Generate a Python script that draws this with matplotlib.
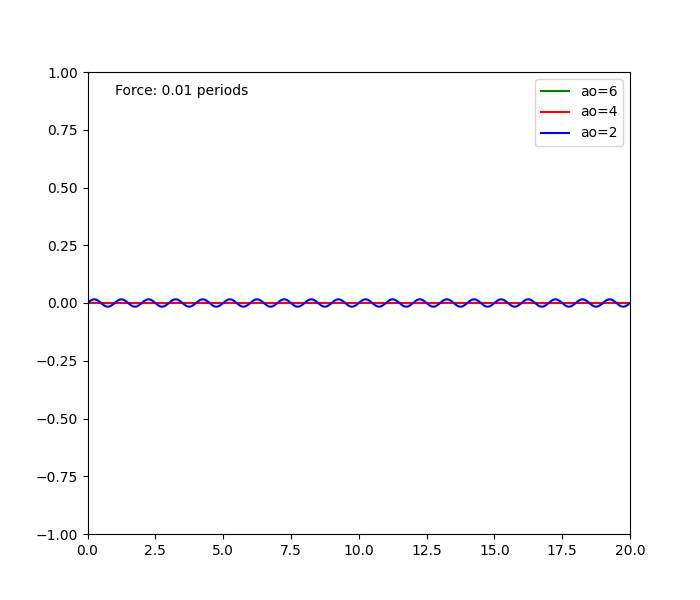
import numpy as np
import matplotlib
matplotlib.use("Agg")
import matplotlib.pyplot as plt

labels = ["ao=6", "ao=4", "ao=2"]
colors = ["green", "red", "blue"]
amplitudes = [0.0, 0.0005, 0.016]
frequency = 1.0                      # cycles per unit time
x_range = [0, 20]
title_text = "Force: 0.01 periods"

t = np.linspace(x_range[0], x_range[1], 2001)

fig, ax = plt.subplots(figsize=(7, 6), dpi=100)
for lab, col, amp in zip(labels, colors, amplitudes):
    ax.plot(t, amp * np.sin(2 * np.pi * frequency * t), color=col, label=lab)

ax.set_xlim(0, 20)
ax.set_ylim(-1, 1)
ax.text(1, 0.9, title_text)
ax.legend(loc="upper right")
fig.savefig("out.png")
